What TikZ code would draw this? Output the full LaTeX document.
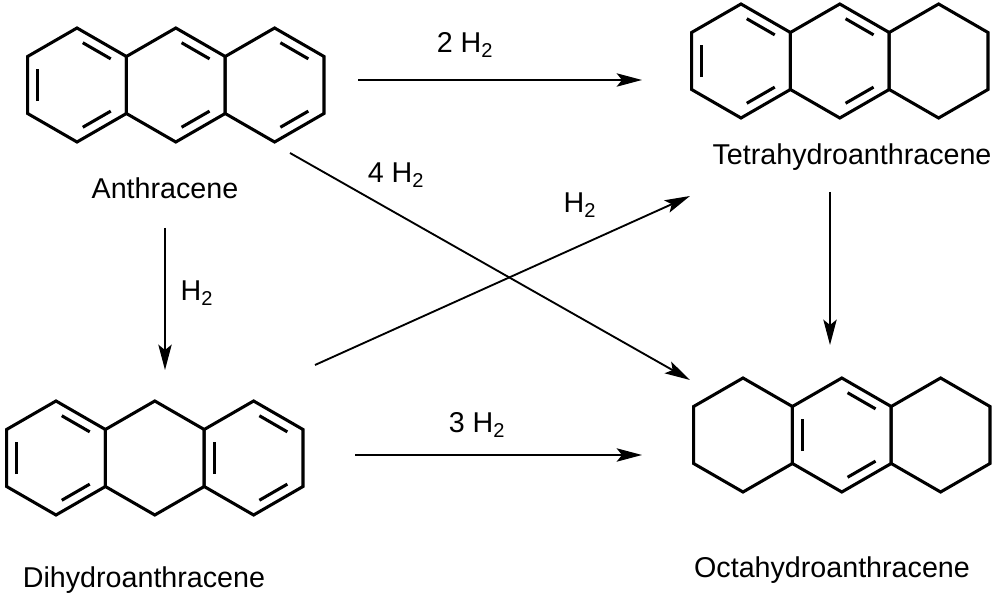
\documentclass[tikz,border=0pt]{standalone}
\usepackage{fontspec}
\setmainfont{Liberation Sans}
\usetikzlibrary{arrows.meta,calc}
\newcommand\hexring[3]{%
  \coordinate (#1-c) at (#2,#3);
  \coordinate (#1-1) at (#2,#3-57);
  \coordinate (#1-2) at (#2+49.4,#3-28.5);
  \coordinate (#1-3) at (#2+49.4,#3+28.5);
  \coordinate (#1-4) at (#2,#3+57);
  \coordinate (#1-5) at (#2-49.4,#3+28.5);
  \coordinate (#1-6) at (#2-49.4,#3-28.5);
  \draw[bond] (#1-1)--(#1-2)--(#1-3)--(#1-4)--(#1-5)--(#1-6)--cycle;}
\newcommand\inb[3]{\draw[bond,shorten <=5, shorten >=5] ($(#1-#2)!0.2!(#1-c)$)--($(#1-#3)!0.2!(#1-c)$);}
\begin{document}
\begin{tikzpicture}[x=0.75pt,y=-0.75pt,
  bond/.style={line width=2.3pt,line join=miter},
  rx/.style={line width=1.4pt,-{Stealth[length=19pt,width=10pt,inset=4pt]}},
  lbl/.style={font=\fontsize{21.5}{25}\selectfont,inner sep=0pt}]
\useasboundingbox (0,0) rectangle (1000,605);
% Anthracene
\hexring{a1}{77}{85}\hexring{a2}{175.8}{85}\hexring{a3}{274.6}{85}
\inb{a1}{5}{6}\inb{a1}{1}{2}\inb{a1}{3}{4}
\inb{a2}{1}{2}\inb{a2}{3}{4}
\inb{a3}{1}{2}\inb{a3}{3}{4}
% Tetrahydro
\hexring{t1}{741}{61}\hexring{t2}{839.8}{61}\hexring{t3}{938.6}{61}
\inb{t1}{5}{6}\inb{t1}{1}{2}\inb{t1}{3}{4}
\inb{t2}{1}{2}\inb{t2}{3}{4}
% Dihydro
\hexring{d1}{56}{458}\hexring{d2}{154.8}{458}\hexring{d3}{253.6}{458}
\inb{d1}{5}{6}\inb{d1}{1}{2}\inb{d1}{3}{4}
\inb{d3}{5}{6}\inb{d3}{1}{2}\inb{d3}{3}{4}
% Octahydro
\hexring{o1}{743}{435}\hexring{o2}{841.8}{435}\hexring{o3}{940.6}{435}
\inb{o2}{5}{6}\inb{o2}{1}{2}\inb{o2}{3}{4}
% labels
\node[lbl] (la) at (165,188) {Anthracene};
\node[lbl] (lt) at (852,157) {Tetrahydroanthracene};
\node[lbl] (ld) at (144,580) {Dihydroanthracene};
\node[lbl] (lo) at (832,570) {Octahydroanthracene};
% arrow endpoints
\coordinate (p1) at (358,80); \coordinate (q1) at (642,80);
\coordinate (p2) at (290,153); \coordinate (q2) at (690,380);
\coordinate (p3) at (315,365); \coordinate (q3) at (690,196);
\coordinate (p4) at (165,228); \coordinate (q4) at (165,370);
\coordinate (p5) at (355,455); \coordinate (q5) at (642,455);
\coordinate (p6) at (830,192); \coordinate (q6) at (830,345);
\draw[rx] (p1)--(q1);\draw[rx] (p2)--(q2);\draw[rx] (p3)--(q3);
\draw[rx] (p4)--(q4);\draw[rx] (p5)--(q5);\draw[rx] (p6)--(q6);
\node[lbl] (h1) at (465,45) {2 H\textsubscript{2}};
\node[lbl] (h2) at (396,175) {4 H\textsubscript{2}};
\node[lbl] (h3) at (580,205) {H\textsubscript{2}};
\node[lbl] (h4) at (197,293) {H\textsubscript{2}};
\node[lbl] (h5) at (477,425) {3 H\textsubscript{2}};
\end{tikzpicture}
\end{document}
